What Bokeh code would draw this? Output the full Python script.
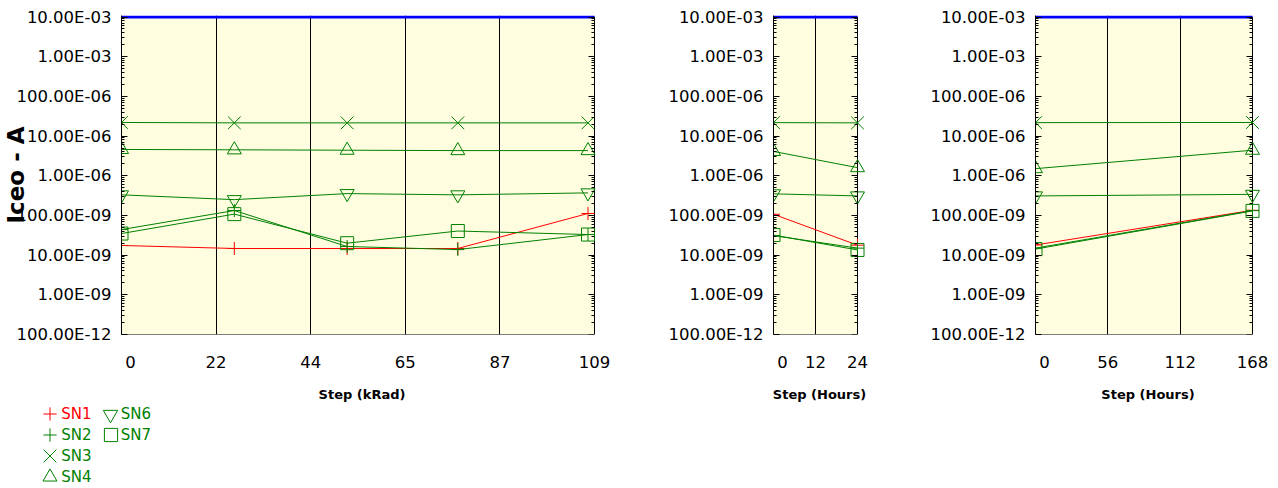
from bokeh.plotting import figure
from bokeh.layouts import row, column
from bokeh.models import Range1d, FixedTicker, LogAxis, Legend, LegendItem, BoxAnnotation
from bokeh.embed import file_html
from bokeh.resources import INLINE

# ---------------- data ----------------
series_names = ["SN1", "SN2", "SN3", "SN4", "SN6", "SN7"]
series_colors = ["#ff0000", "#008000", "#008000", "#008000", "#008000", "#008000"]
series_markers = ["cross", "cross", "x", "triangle", "inverted_triangle", "square"]

# Panel 1 : total dose (kRad)
rad_steps = [0, 26, 52, 77.5, 107.5]
rad_sn1 = [1.75e-8, 1.47e-8, 1.47e-8, 1.47e-8, 1.12e-7]
rad_sn2 = [4.4e-8, 1.33e-7, 1.65e-8, 1.38e-8, 3.3e-8]
rad_sn3 = [2.2e-5, 2.15e-5, 2.15e-5, 2.15e-5, 2.15e-5]
rad_sn4 = [4.6e-6, 4.5e-6, 4.4e-6, 4.3e-6, 4.3e-6]
rad_sn6 = [3.3e-7, 2.5e-7, 3.55e-7, 3.3e-7, 3.7e-7]
rad_sn7 = [3.5e-8, 1.08e-7, 2.0e-8, 4.05e-8, 3.3e-8]

# Panel 2 : 24 h anneal
h24_steps = [0, 24]
h24_sn1 = [1.07e-7, 1.78e-8]
h24_sn2 = [3.1e-8, 1.5e-8]
h24_sn3 = [2.18e-5, 2.15e-5]
h24_sn4 = [4.1e-6, 1.6e-6]
h24_sn6 = [3.5e-7, 3.1e-7]
h24_sn7 = [3.2e-8, 1.35e-8]

# Panel 3 : 168 h anneal
h168_steps = [0, 168]
h168_sn1 = [1.8e-8, 1.35e-7]
h168_sn2 = [1.5e-8, 1.32e-7]
h168_sn3 = [2.18e-5, 2.2e-5]
h168_sn4 = [1.51e-6, 4.4e-6]
h168_sn6 = [3.1e-7, 3.4e-7]
h168_sn7 = [1.42e-8, 1.3e-7]

limit_current = 1e-2

rad_x_end = 109
rad_tick_values = [0, 21.8, 43.6, 65.4, 87.2, 109]
rad_tick_labels = ["0", "22", "44", "65", "87", "109"]
h24_x_end = 24
h24_tick_values = [0, 12, 24]
h24_tick_labels = ["0", "12", "24"]
h168_x_end = 168
h168_tick_values = [0, 56, 112, 168]
h168_tick_labels = ["0", "56", "112", "168"]

y_start = 1e-10
y_tick_values = [1e-2, 1e-3, 1e-4, 1e-5, 1e-6, 1e-7, 1e-8, 1e-9, 1e-10]
y_tick_labels = ["10.00E-03", "1.00E-03", "100.00E-06", "10.00E-06", "1.00E-06",
                 "100.00E-09", "10.00E-09", "1.00E-09", "100.00E-12"]

y_title = "Iceo - A"

# legend arrangement (column, row) of each series in the legend block
legend_cells = {"SN1": (0, 0), "SN2": (0, 1), "SN3": (0, 2), "SN4": (0, 3),
                "SN6": (1, 0), "SN7": (1, 1)}
# ---------------------------------------

FONT = "DejaVu Sans"
BG = "#fffde0"
PANEL_H = 406
LEGEND_H = 488 - PANEL_H
TOP = 15
BOTTOM = 334
FRAME_H = BOTTOM - TOP
PX_PER_DEC = (FRAME_H - 1.5) / 8.0
y_end = 10 ** (-2 + 1.5 / PX_PER_DEC)   # head-room so the 3px limit line shows whole
y_minor = [k * 10.0 ** e for e in range(-10, -2) for k in range(2, 10)]
FIRST_LABEL_SHIFT_PX = 9
RIGHT_PAD_PX = 8   # room so markers on the last step are not cut by the frame

# nominal bokeh marker sizes giving the visual sizes of the original
PLOT_MARKER_SIZE = {"cross": 13, "x": 18, "triangle": 14, "inverted_triangle": 14, "square": 13}
LEGEND_BOX = {"cross": 33, "x": 45, "triangle": 35, "inverted_triangle": 36, "square": 33}


def make_panel(width, b_left, b_right, x_end, tick_values, tick_labels, x_title, steps, values):
    data_w = width - b_left - b_right
    ppu = data_w / x_end
    p = figure(width=width, height=PANEL_H,
               x_range=Range1d(0, x_end + RIGHT_PAD_PX / ppu),
               y_range=Range1d(y_start, y_end),
               y_axis_type="log", output_backend="svg", toolbar_location=None,
               min_border_left=b_left, min_border_right=b_right - RIGHT_PAD_PX,
               min_border_top=TOP, min_border_bottom=PANEL_H - BOTTOM)
    p.background_fill_color = "white"
    p.border_fill_color = "white"
    p.outline_line_color = None

    p.add_layout(BoxAnnotation(left=0, right=x_end, bottom=y_start, top=limit_current,
                               fill_color=BG, fill_alpha=1, line_color="black",
                               line_alpha=1, line_width=1, level="image"))

    label_pos = [tick_values[0] + FIRST_LABEL_SHIFT_PX / ppu] + tick_values[1:]

    xax = p.xaxis[0]
    xax.ticker = FixedTicker(ticks=label_pos, minor_ticks=[])
    xax.major_label_overrides = {float(v): s for v, s in zip(label_pos, tick_labels)}
    xax.major_tick_in = 0
    xax.major_tick_out = 0
    xax.minor_tick_in = 0
    xax.minor_tick_out = 0
    xax.axis_line_color = None
    xax.major_label_text_font = FONT
    xax.major_label_text_font_size = "16.5px"
    xax.major_label_text_color = "black"
    xax.major_label_standoff = 21
    xax.axis_label = x_title
    xax.axis_label_text_font = FONT
    xax.axis_label_text_font_size = "13px"
    xax.axis_label_text_font_style = "bold"
    xax.axis_label_text_color = "black"
    xax.axis_label_standoff = 16

    yax = p.yaxis[0]
    yax.ticker = FixedTicker(ticks=y_tick_values, minor_ticks=y_minor)
    yax.major_label_overrides = {float(v): s for v, s in zip(y_tick_values, y_tick_labels)}
    yax.major_tick_in = 6
    yax.major_tick_out = 0
    yax.minor_tick_in = 3
    yax.minor_tick_out = 0
    yax.axis_line_color = "black"
    yax.major_label_text_font = FONT
    yax.major_label_text_font_size = "16.5px"
    yax.major_label_text_color = "black"
    yax.major_label_standoff = 10

    rax = LogAxis(ticker=FixedTicker(ticks=y_tick_values, minor_ticks=y_minor),
                  fixed_location=x_end,
                  major_label_text_font_size="1px", major_label_text_alpha=0,
                  major_label_standoff=0,
                  major_tick_in=6, major_tick_out=0, minor_tick_in=3, minor_tick_out=0,
                  axis_line_color=None)
    p.add_layout(rax, "right")

    p.xgrid.ticker = FixedTicker(ticks=tick_values[1:-1], minor_ticks=[])
    p.xgrid.grid_line_color = "black"
    p.xgrid.grid_line_width = 1
    p.ygrid.visible = False

    p.line([0, x_end], [limit_current, limit_current], line_color="#0000ff", line_width=3)

    for name, color, marker, vals in zip(series_names, series_colors, series_markers, values):
        p.line(steps, vals, line_color=color, line_width=1)
        p.scatter(steps, vals, marker=marker, size=PLOT_MARKER_SIZE[marker], fill_color=None,
                  line_color=color, line_width=1)
    return p


rad_values = [rad_sn1, rad_sn2, rad_sn3, rad_sn4, rad_sn6, rad_sn7]
p1 = make_panel(640, 121, 46, rad_x_end, rad_tick_values, rad_tick_labels, "Step (kRad)",
                rad_steps, rad_values)
p2 = make_panel(280, 133, 63, h24_x_end, h24_tick_values, h24_tick_labels, "Step (Hours)",
                h24_steps, [h24_sn1, h24_sn2, h24_sn3, h24_sn4, h24_sn6, h24_sn7])
p3 = make_panel(358, 115, 26, h168_x_end, h168_tick_values, h168_tick_labels, "Step (Hours)",
                h168_steps, [h168_sn1, h168_sn2, h168_sn3, h168_sn4, h168_sn6, h168_sn7])

# y-axis title, overlapping the tick labels like the original
p1.yaxis[0].axis_label = y_title
p1.yaxis[0].axis_label_text_font = FONT
p1.yaxis[0].axis_label_text_font_style = "bold"
p1.yaxis[0].axis_label_text_font_size = "23px"
p1.yaxis[0].axis_label_text_color = "black"
p1.yaxis[0].axis_label_standoff = -16

# legend strip below the first panel (its glyphs sit outside this strip's ranges)
lf = figure(width=640, height=LEGEND_H, x_range=Range1d(-2, -1), y_range=Range1d(-2, -1),
            x_axis_location=None, y_axis_location=None, output_backend="svg",
            toolbar_location=None, min_border=0)
lf.outline_line_color = None
lf.grid.visible = False
lf.background_fill_color = "white"
lf.border_fill_color = "white"

COL_GLYPH_X = [49.3, 110.0]
COL_TEXT_X = [61.3, 120.7]
ROW_PITCH = 21
FIRST_ROW_CENTER = 7.7  # below the top of the legend strip
TEXT_BOX = 20

for name, color, marker, vals in zip(series_names, series_colors, series_markers, rad_values):
    r = lf.scatter(x=rad_steps[:1], y=vals[:1], marker=marker, size=PLOT_MARKER_SIZE[marker],
                   fill_color=None, line_color=color, line_width=1)
    col, rw = legend_cells[name]
    cy = FIRST_ROW_CENTER + ROW_PITCH * rw
    box = LEGEND_BOX[marker]
    common = dict(orientation="vertical", spacing=0, label_standoff=0, padding=0, margin=0,
                  border_line_color=None, background_fill_alpha=0,
                  label_text_font=FONT, label_text_font_size="15px", label_text_color=color)
    # marker only
    lf.add_layout(Legend(items=[LegendItem(label=" ", renderers=[r])],
                         location=(COL_GLYPH_X[col] - box / 2, LEGEND_H - cy - box / 2),
                         glyph_width=box, glyph_height=box, label_height=box, **common), "center")
    # text only
    lf.add_layout(Legend(items=[LegendItem(label=name, renderers=[r])],
                         location=(COL_TEXT_X[col], LEGEND_H - cy - TEXT_BOX / 2),
                         glyph_width=0, glyph_height=TEXT_BOX, label_height=TEXT_BOX, **common),
                  "center")

layout = column(row(p1, p2, p3, spacing=0), lf, spacing=0)
open("out.html", "w").write(file_html(layout, INLINE))
